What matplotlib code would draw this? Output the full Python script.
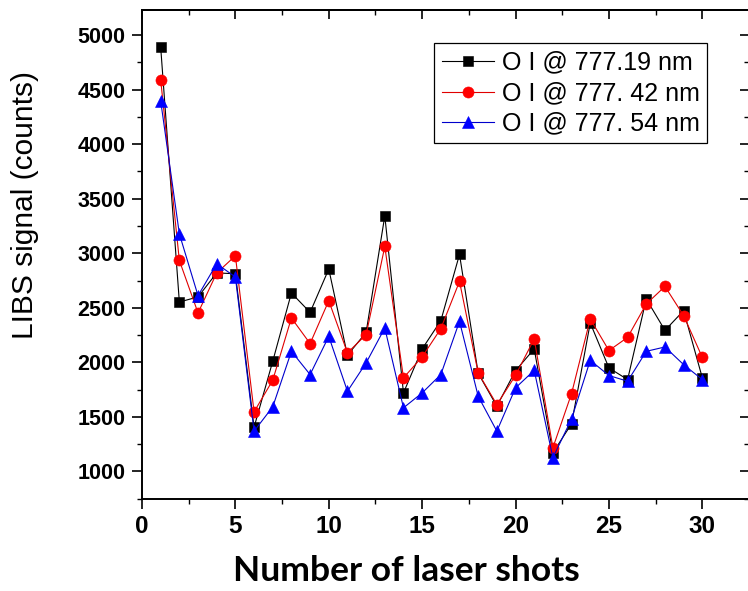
import matplotlib
matplotlib.use("Agg")
import matplotlib.pyplot as plt
from matplotlib.ticker import MultipleLocator

shots = list(range(1, 31))
oi_77719 = [4890, 2553, 2600, 2820, 2812, 1405, 2010, 2636, 2458, 2855,
            2065, 2275, 3343, 1720, 2123, 2382, 2989, 1900, 1598, 1924,
            2123, 1171, 1437, 2361, 1949, 1842, 2581, 2293, 2474, 1858]
oi_77742 = [4591, 2934, 2453, 2819, 2977, 1546, 1836, 2407, 2172, 2565,
            2087, 2254, 3062, 1858, 2050, 2309, 2742, 1903, 1613, 1881,
            2215, 1217, 1714, 2398, 2108, 2229, 2535, 2696, 2428, 2046]
oi_77754 = [4396, 3178, 2611, 2904, 2782, 1369, 1592, 2101, 1888, 2238,
            1735, 1995, 2315, 1583, 1720, 1888, 2376, 1689, 1369, 1766,
            1927, 1125, 1482, 2019, 1879, 1827, 2101, 2141, 1979, 1842]
labels = ["O I @ 777.19 nm", "O I @ 777. 42 nm", "O I @ 777. 54 nm"]

plt.rcParams['font.family'] = ['Liberation Sans', 'DejaVu Sans']

W, H = 748, 591
fig = plt.figure(figsize=(W / 100, H / 100), dpi=100)
ax_l, ax_r, ax_t, ax_b = 142, 749, 10, 498.7
ax = fig.add_axes([ax_l / W, (H - ax_b) / H, (ax_r - ax_l) / W, (ax_b - ax_t) / H])

ax.plot(shots, oi_77719, color='black', lw=0.8, marker='s', ms=7.2,
        mec='black', mfc='black', mew=0.4, label=labels[0], zorder=3)
ax.plot(shots, oi_77742, color='#e00000', lw=0.8, marker='o', ms=8,
        mec='red', mfc='red', mew=0.4, label=labels[1], zorder=4)
ax.plot(shots, oi_77754, color='#0000cc', lw=0.8, marker='^', ms=9,
        mec='blue', mfc='blue', mew=0.4, label=labels[2], zorder=5)

ax.set_xlim(0, 32.5)
ax.set_ylim(750, 5230)
ax.xaxis.set_minor_locator(MultipleLocator(2.5))
ax.yaxis.set_minor_locator(MultipleLocator(250))
ax.set_xticks([0, 5, 10, 15, 20, 25, 30])
ax.set_yticks([1000, 1500, 2000, 2500, 3000, 3500, 4000, 4500, 5000])

for s in ax.spines.values():
    s.set_linewidth(1.4)

ax.tick_params(which='major', direction='out', length=7, width=1.2,
               top=False, right=False)
ax.tick_params(which='minor', direction='out', length=3.5, width=1.0,
               top=False, right=False)
ax.tick_params(axis='y', which='major', labelsize=15.5, pad=5)
ax.tick_params(axis='x', which='major', labelsize=17.5, pad=5)
for lab in ax.get_xticklabels() + ax.get_yticklabels():
    lab.set_fontweight('bold')

# mirrored inward ticks on top and right
axt = ax.secondary_xaxis('top')
axt.set_xticks([0, 5, 10, 15, 20, 25, 30])
axt.xaxis.set_minor_locator(MultipleLocator(2.5))
axt.tick_params(which='major', direction='in', length=6.5, width=1.2, labeltop=False)
axt.tick_params(which='minor', direction='in', length=3.5, width=1.0)
axt.spines['top'].set_linewidth(1.4)
axr = ax.secondary_yaxis('right')
axr.set_yticks([1000, 1500, 2000, 2500, 3000, 3500, 4000, 4500, 5000])
axr.yaxis.set_minor_locator(MultipleLocator(250))
axr.tick_params(which='major', direction='in', length=6.5, width=1.2, labelright=False)
axr.tick_params(which='minor', direction='in', length=3.5, width=1.0)

ax.set_ylabel("LIBS signal (counts)", fontsize=21.5)
ax.yaxis.set_label_coords((39 - ax_l) / (ax_r - ax_l), (ax_b - 205) / (ax_b - ax_t))

ax.set_xlabel("Number of laser shots", fontsize=25.5, fontweight='bold',
              family=['Lato', 'DejaVu Sans'], va='top')
ax.xaxis.set_label_coords((406.5 - ax_l) / (ax_r - ax_l), (ax_b - 555) / (ax_b - ax_t))

leg = ax.legend(loc='upper left',
                bbox_to_anchor=((434 - ax_l) / (ax_r - ax_l), (ax_b - 43.3) / (ax_b - ax_t)),
                borderaxespad=0, fontsize=18, frameon=True, fancybox=False,
                edgecolor='black', framealpha=1, borderpad=0.3, labelspacing=0.26,
                handlelength=2.1, handletextpad=0.3)
leg.get_frame().set_linewidth(0.9)

fig.savefig("out.png", dpi=100)
